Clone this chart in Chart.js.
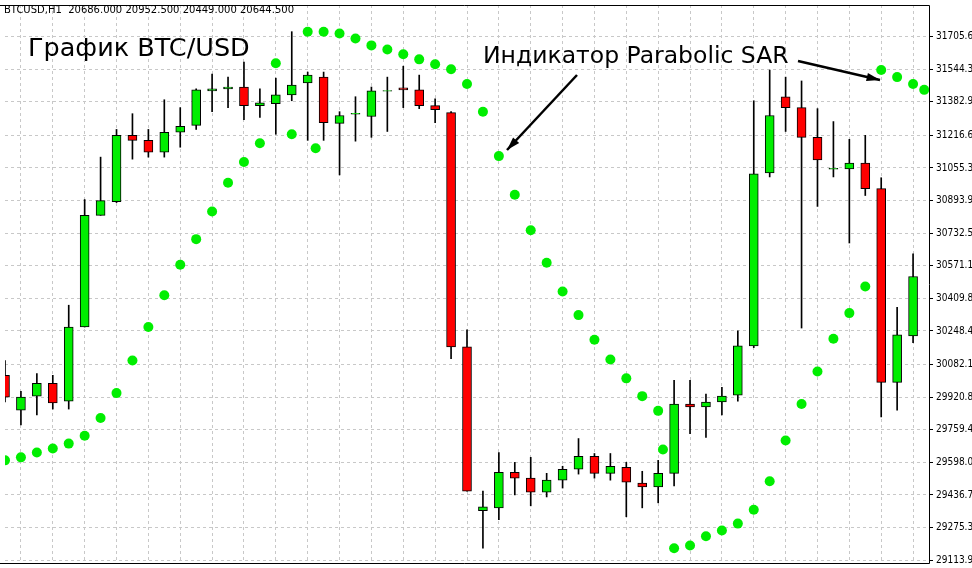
<!DOCTYPE html>
<html><head><meta charset="utf-8">
<script src="https://cdn.jsdelivr.net/npm/chart.js@4.4.1/dist/chart.umd.min.js"></script>
<style>html,body{margin:0;padding:0;background:#fff}#wrap{width:972px;height:568px;position:relative}</style>
</head><body><div id="wrap"><canvas id="c"></canvas></div>
<script>
// OHLC per hourly candle
const opens =[30029,29857,29926,29989,29901,30268,30821,30889,31217,31192,31134,31232,31266,31437,31447,31456,31364,31373,31417,31476,31505,31276,31322,31310,31435,31452,31442,31364,31329,30170,29359,29373,29549,29520,29451,29510,29564,29628,29544,29574,29496,29476,29544,29887,29872,29897,29931,30175,31031,31408,31354,31207,31049,31051,31080,30953,29994,30224];
const highs =[30102,29950,30038,30029,30376,30899,31109,31246,31324,31246,31393,31354,31447,31520,31505,31579,31447,31500,31730,31530,31530,31334,31408,31456,31505,31559,31515,31398,31334,30254,29456,29647,29598,29623,29544,29579,29716,29642,29642,29598,29554,29608,30004,30004,29936,29970,30249,31388,31540,31505,31486,31349,31285,31197,31217,31007,30366,30630];
const lows  =[29897,29784,29833,29862,29862,30268,30821,30884,31099,31109,31109,31158,31246,31334,31354,31295,31305,31222,31388,31192,31192,31021,31188,31207,31236,31354,31349,31280,30112,29456,29173,29315,29437,29383,29427,29471,29540,29520,29510,29329,29373,29398,29481,29740,29721,29833,29901,30166,31011,31236,30263,30865,31011,30684,30919,29823,29857,30190];
const closes=[29921,29921,29989,29892,30268,30821,30894,31217,31192,31134,31232,31261,31442,31447,31456,31364,31378,31417,31466,31515,31280,31315,31326,31437,31439,31442,31364,31344,30170,29456,29378,29549,29520,29451,29510,29564,29628,29544,29579,29500,29476,29544,29887,29872,29897,29926,30175,31026,31315,31354,31207,31095,31053,31080,30953,29994,30229,30518];
// Parabolic SAR dots (bar position, price)
const sarX=[0,1,2,3,4,5,6,7,8,9,10,11,12,13,14,15,16,17,18,19.5,19,20,21,22,23,24,25,26,27,28,29,30,31,32,33,34,35,36,37,38,39,40,41,41.3,42,43,44,45,46,47,48,49,50,51,52,53,54,55,56,57,57.7];
const sarY=[29608,29623,29647,29667,29691,29730,29818,29941,30102,30268,30425,30576,30703,30840,30982,31085,31178,31574,31222,31153,31730,31730,31721,31696,31662,31642,31618,31593,31569,31544,31471,31334,31114,30923,30747,30586,30444,30327,30205,30107,30014,29926,29853,29662,29173,29187,29232,29261,29295,29364,29505,29706,29887,30048,30210,30337,30469,31540,31505,31471,31442];
const tickVals=[31705.6,31544.3,31382.9,31216.6,31055.3,30893.9,30732.5,30571.1,30409.8,30248.4,30082.1,29920.8,29759.4,29598.0,29436.7,29275.3,29113.9];

const GREEN='#00ee00', RED='#ff0000';
const up=opens.map((o,i)=>closes[i]>=o);
const wicks=opens.map((o,i)=>({x:i,y:[lows[i],highs[i]]}));
const bodies=opens.map((o,i)=>{let a=Math.min(o,closes[i]),b=Math.max(o,closes[i]);if(b-a<4){a-=2;b+=2;}return {x:i,y:[a,b]};});
const sar=sarX.map((x,i)=>({x,y:sarY[i]}));

const overlay={id:'overlay',afterDraw(ch){
  const c=ch.ctx,a=ch.chartArea;c.save();
  c.strokeStyle='#000';c.lineWidth=1;c.beginPath();
  c.moveTo(0,a.top+0.5);c.lineTo(a.right+0.5,a.top+0.5);c.lineTo(a.right+0.5,a.bottom+0.5);c.lineTo(0,a.bottom+0.5);c.stroke();
  c.fillStyle='#000';c.font='10px "DejaVu Sans"';c.textBaseline='middle';
  c.fillText('BTCUSD,H1  20686.000 20952.500 20449.000 20644.500',4,10);
  c.font='25.5px "DejaVu Sans"';c.fillText('График BTC/USD',28,49);
  c.font='23.5px "DejaVu Sans"';c.fillText('Индикатор Parabolic SAR',483,57);
  const arrow=(x1,y1,x2,y2)=>{c.strokeStyle='#000';c.fillStyle='#000';c.lineWidth=2.5;c.beginPath();c.moveTo(x1,y1);c.lineTo(x2,y2);c.stroke();
    const t=Math.atan2(y2-y1,x2-x1);c.beginPath();c.moveTo(x2,y2);c.lineTo(x2-14*Math.cos(t-0.3),y2-14*Math.sin(t-0.3));c.lineTo(x2-14*Math.cos(t+0.3),y2-14*Math.sin(t+0.3));c.closePath();c.fill();};
  arrow(577,75,507,150);arrow(798,61,880,80);
  c.restore();}};

new Chart(document.getElementById('c'),{
  data:{datasets:[
    {type:'scatter',data:sar,backgroundColor:GREEN,borderWidth:0,pointRadius:5,order:0},
    {type:'bar',data:bodies,backgroundColor:up.map(u=>u?GREEN:RED),borderColor:'#000',borderWidth:1,borderSkipped:false,barThickness:9,grouped:false,order:1},
    {type:'bar',data:wicks,backgroundColor:'#000',barThickness:1,grouped:false,order:2}
  ]},
  options:{responsive:true,maintainAspectRatio:false,animation:false,
    layout:{padding:{top:3,bottom:2,right:0,left:0}},
    plugins:{legend:{display:false},tooltip:{enabled:false}},
    scales:{
      x:{type:'linear',min:0,max:58,offset:false,
        afterBuildTicks:s=>{const t=[];for(let v=2;v<58;v+=2)t.push({value:v});s.ticks=t;},
        ticks:{display:false},
        grid:{color:'#c8c8c8',drawTicks:false},border:{display:false,dash:[3,3]},
        afterFit:s=>{s.height=0;s.paddingLeft=0;s.paddingRight=0;}},
      y:{position:'right',min:29100,max:31862,
        afterBuildTicks:s=>{s.ticks=tickVals.map(v=>({value:v}));},
        ticks:{color:'#000',font:{size:10,family:'"DejaVu Sans Condensed","DejaVu Sans"'},padding:3,callback:v=>v.toFixed(1)},
        grid:{color:'#c8c8c8',tickColor:'#000',tickLength:4,tickBorderDash:[],drawOnChartArea:true},border:{display:false,dash:[3,3]},
        afterFit:s=>{s.width=43;s.paddingTop=0;s.paddingBottom=0;}}
    }},
  plugins:[overlay]
});
</script></body></html>
